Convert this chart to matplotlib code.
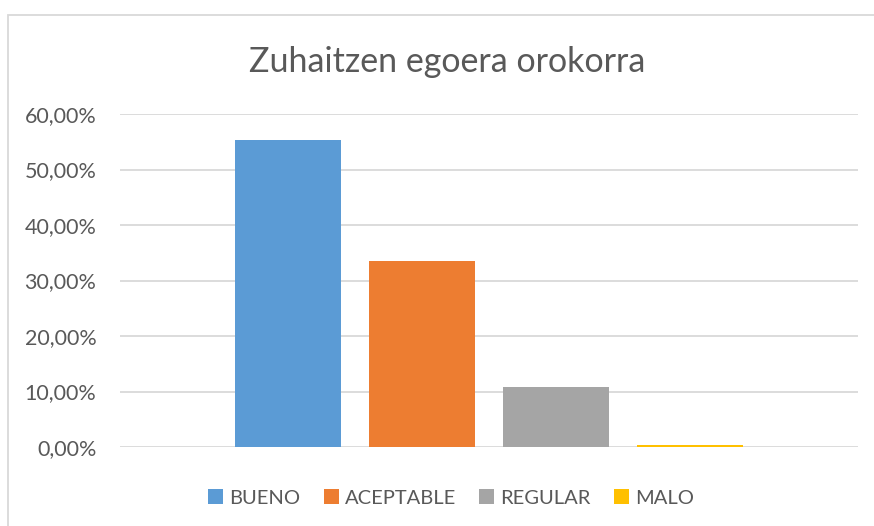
import matplotlib
matplotlib.use('Agg')
from matplotlib import pyplot as plt
from matplotlib.patches import Patch, Rectangle
from matplotlib.ticker import FuncFormatter

plt.rcParams['font.family'] = ['Lato', 'DejaVu Sans']

categories = ['BUENO', 'ACEPTABLE', 'REGULAR', 'MALO']
values = [0.553, 0.335, 0.108, 0.004]
colors = ['#5b9bd5', '#ed7d31', '#a5a5a5', '#ffc000']
yticks = [0, 0.1, 0.2, 0.3, 0.4, 0.5, 0.6]

W, H = 874, 526
fig = plt.figure(figsize=(W / 100, H / 100), dpi=100)

# chart frame (cropped on right and bottom)
fig.patches.append(Rectangle((8 / W, -0.1), 1.2, 1 - 15 / H + 0.1, transform=fig.transFigure,
                             fill=False, edgecolor='#d9d9d9', linewidth=1.3))

ax = fig.add_axes([120 / W, 1 - 447 / H, (858 - 120) / W, (447 - 114) / H])
xs = list(range(len(categories)))
for x, v, c, name in zip(xs, values, colors, categories):
    ax.bar(x, v, width=0.79, color=c, label=name, zorder=3)

step = 134
ax.set_xlim((120 - 288) / step, (858 - 288) / step)
ax.set_ylim(0, 0.6)
ax.set_yticks(yticks)
ax.yaxis.set_major_formatter(FuncFormatter(lambda v, p: f'{v * 100:.2f}%'.replace('.', ',')))
ax.set_xticks([])
ax.tick_params(axis='y', length=0, pad=17, labelsize=15.5, labelcolor='#595959')
ax.grid(axis='y', color='#d9d9d9', linewidth=1.3, zorder=0)
for s in ax.spines.values():
    s.set_visible(False)

fig.text(447 / W, 1 - 62 / H, 'Zuhaitzen egoera orokorra', ha='center', va='center',
         fontsize=24.5, color='#595959')

handles = [Patch(facecolor=c, label=n) for c, n in zip(colors, categories)]
fig.legend(handles=handles, loc='center', bbox_to_anchor=(451 / W, 1 - 498 / H), ncol=4,
           frameon=False, fontsize=14.5, labelcolor='#595959', handlelength=0.75,
           handleheight=0.75, handletextpad=0.3, columnspacing=1.15)

fig.savefig('out.png', dpi=100)
